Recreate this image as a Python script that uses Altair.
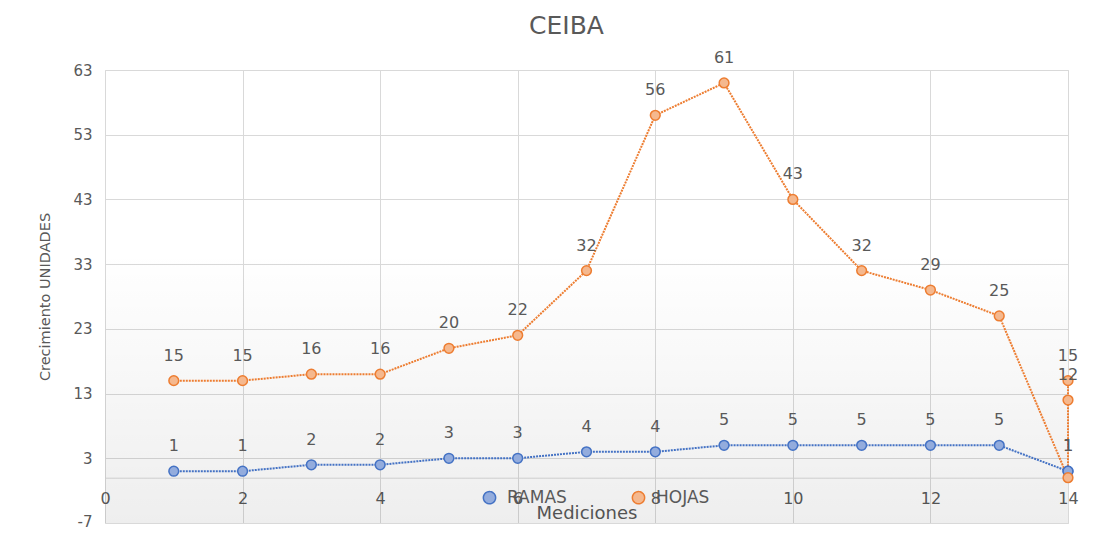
import altair as alt
import pandas as pd

# ---- data ----
series = ["RAMAS", "HOJAS"]
medicion_ramas = [1, 2, 3, 4, 5, 6, 7, 8, 9, 10, 11, 12, 13, 14, 14]
ramas = [1, 1, 2, 2, 3, 3, 4, 4, 5, 5, 5, 5, 5, 1, 1]
medicion_hojas = [1, 2, 3, 4, 5, 6, 7, 8, 9, 10, 11, 12, 13, 14, 14, 14]
hojas = [15, 15, 16, 16, 20, 22, 32, 56, 61, 43, 32, 29, 25, 0, 12, 15]
hojas_labels = ["15", "15", "16", "16", "20", "22", "32", "56", "61", "43",
                "32", "29", "25", "", "12", "15"]
ramas_labels = [str(v) for v in ramas]
x_ticks = [0, 2, 4, 6, 8, 10, 12, 14]
y_ticks = [-7, 3, 13, 23, 33, 43, 53, 63]

rows = []
for i, (m, v, l) in enumerate(zip(medicion_ramas, ramas, ramas_labels)):
    rows.append({"Mediciones": m, "valor": v, "serie": "RAMAS", "orden": i, "etiqueta": l})
for i, (m, v, l) in enumerate(zip(medicion_hojas, hojas, hojas_labels)):
    rows.append({"Mediciones": m, "valor": v, "serie": "HOJAS", "orden": i, "etiqueta": l})
df = pd.DataFrame(rows)

FONT = "DejaVu Sans"
GRAY = "#595959"
GRID = "#d9d9d9"
W, H = 963, 453
ymin, ymax = -7, 63
zero_offset = -(0 - ymin) / (ymax - ymin) * H

xscale = alt.Scale(domain=[0, 14], nice=False, zero=False)
yscale = alt.Scale(domain=[ymin, ymax], nice=False, zero=False)
stroke_scale = alt.Scale(domain=series, range=["#4472C4", "#ED7D31"])
fill_scale = alt.Scale(domain=series, range=["#93ACDD", "#F5B88E"])

x_enc = alt.X(
    "Mediciones:Q", scale=xscale,
    axis=alt.Axis(values=x_ticks, title="Mediciones", offset=zero_offset, ticks=False,
                  domainColor=GRID, gridColor=GRID, labelPadding=13, labelFontSize=16,
                  labelColor=GRAY, labelFont=FONT, titleFont=FONT, titleFontSize=18,
                  titleColor=GRAY, titleFontWeight="normal", titleY=41,
                  titleBaseline="alphabetic", labelFlush=False,
                  labelExpr="'' + datum.value"),
)
y_enc = alt.Y(
    "valor:Q", scale=yscale,
    axis=alt.Axis(values=y_ticks, title="Crecimiento UNIDADES", domain=False, ticks=False,
                  gridColor=GRID, labelPadding=13, labelFontSize=15, labelColor=GRAY,
                  labelFont=FONT, titleFont=FONT, titleFontSize=14.5, titleColor=GRAY,
                  titleFontWeight="normal", titleX=-60, titleY=H / 2,
                  titleBaseline="middle", labelFlush=False,
                  labelOffset={"condition": {"test": "datum.value === -7", "value": -1.5},
                               "value": 0},
                  labelExpr="'' + datum.value"),
)

legend = alt.Legend(title=None, orient="none", legendX=376, legendY=419,
                    direction="horizontal", labelFontSize=17, labelColor=GRAY,
                    labelFont=FONT, symbolSize=150, symbolType="circle", labelOffset=9,
                    columnPadding=62, padding=0, symbolStrokeWidth=1.5,
                    symbolDash=[1, 0], symbolOpacity=1)

bg_df = pd.DataFrame({"x0": [0], "x1": [14], "y0": [ymax], "y1": [ymin]})
background = alt.Chart(bg_df).mark_rect(
    color=alt.LinearGradient(
        gradient="linear", x1=0, x2=0, y1=0, y2=1,
        stops=[alt.GradientStop(offset=0, color="rgba(0,0,0,0)"),
               alt.GradientStop(offset=0.4, color="rgba(0,0,0,0)"),
               alt.GradientStop(offset=1, color="rgba(0,0,0,0.065)")],
    )
).encode(
    x=alt.X("x0:Q", scale=xscale), x2="x1:Q",
    y=alt.Y("y0:Q", scale=yscale), y2="y1:Q",
)

base = alt.Chart(df)

lines = base.mark_line(strokeWidth=2, strokeDash=[2, 1], interpolate="linear").encode(
    x=x_enc, y=y_enc,
    stroke=alt.Stroke("serie:N", scale=stroke_scale, legend=legend),
    order="orden:Q",
)

points = base.mark_point(shape="circle", filled=True, size=95, strokeWidth=1.5, opacity=1).encode(
    x=x_enc, y=y_enc,
    stroke=alt.Stroke("serie:N", scale=stroke_scale, legend=legend),
    fill=alt.Fill("serie:N", scale=fill_scale, legend=legend),
)

labels = base.mark_text(dy=-25, fontSize=16, color=GRAY, font=FONT, baseline="middle").encode(
    x=x_enc, y=y_enc, text="etiqueta:N",
)

chart = alt.layer(background, lines, points, labels).properties(
    width=W, height=H,
    title=alt.TitleParams("CEIBA", fontSize=25, color=GRAY, font=FONT, fontWeight="normal",
                          anchor="middle", dx=-20, offset=11),
    autosize=alt.AutoSizeParams(type="none"),
    padding={"left": 97, "top": 62, "right": 41, "bottom": 7},
).configure_view(stroke=GRID).configure(background="white")

chart.save("out.html", embed_options={"renderer": "svg", "actions": False})
